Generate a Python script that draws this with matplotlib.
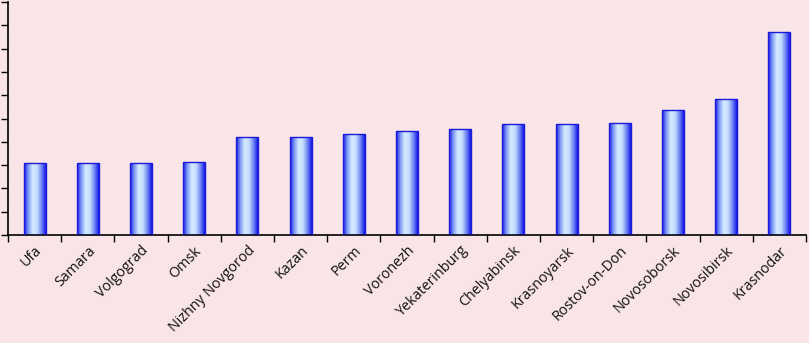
import numpy as np
import matplotlib
matplotlib.use('Agg')
import matplotlib.pyplot as plt
from matplotlib.colors import LinearSegmentedColormap

cities = ['Ufa', 'Samara', 'Volgograd', 'Omsk', 'Nizhny Novgorod', 'Kazan', 'Perm',
          'Voronezh', 'Yekaterinburg', 'Chelyabinsk', 'Krasnoyarsk', 'Rostov-on-Don',
          'Novosoborsk', 'Novosibirsk', 'Krasnodar']
values = [3.08, 3.08, 3.10, 3.15, 4.19, 4.19, 4.32, 4.45, 4.54, 4.75, 4.78, 4.82,
          5.36, 5.84, 8.70]

bg = '#f9e5e7'

fig = plt.figure(figsize=(8.09, 3.43), dpi=100, facecolor=bg)
ax = fig.add_axes([8 / 809, 1 - 235 / 343, 798 / 809, 233 / 343], facecolor=bg)

x = np.arange(len(cities))
bars = ax.bar(x, values, width=0.41, facecolor='none', edgecolor='#1a1ad8',
              linewidth=1.0, zorder=3)

# cylinder-ish shading: dark blue edges, pale centre
cmap = LinearSegmentedColormap.from_list('cyl', ['#1515e8', '#7f9cf6', '#d6ecff',
                                                 '#c4dcfd', '#6f86f2', '#1515e8'])
grad = np.linspace(0, 1, 256).reshape(1, -1)
for b in bars:
    x0, y0 = b.get_x(), b.get_y()
    im = ax.imshow(grad, cmap=cmap, aspect='auto', zorder=2,
                   extent=[x0, x0 + b.get_width(), y0, y0 + b.get_height()])
    im.set_clip_path(b)

ax.set_xlim(-0.5, len(cities) - 0.5)
ax.set_ylim(0, 10)
ax.set_yticks(np.arange(0, 11, 1))
ax.set_yticklabels([])
ax.set_xticks(np.arange(-0.5, len(cities), 1))
ax.set_xticklabels([])
ax.set_xticks(x, minor=True)
ax.set_xticklabels(cities, minor=True, rotation=45, ha='right',
                   rotation_mode='anchor', fontsize=10.3, family='Open Sans',
                   color='#111111')
ax.tick_params(axis='x', which='minor', length=0, pad=6)
ax.tick_params(axis='both', which='major', length=5, width=1, color='black')
for s in ['top', 'right']:
    ax.spines[s].set_visible(False)
for s in ['left', 'bottom']:
    ax.spines[s].set_linewidth(1.2)

fig.savefig('out.png', dpi=100, facecolor=bg)
